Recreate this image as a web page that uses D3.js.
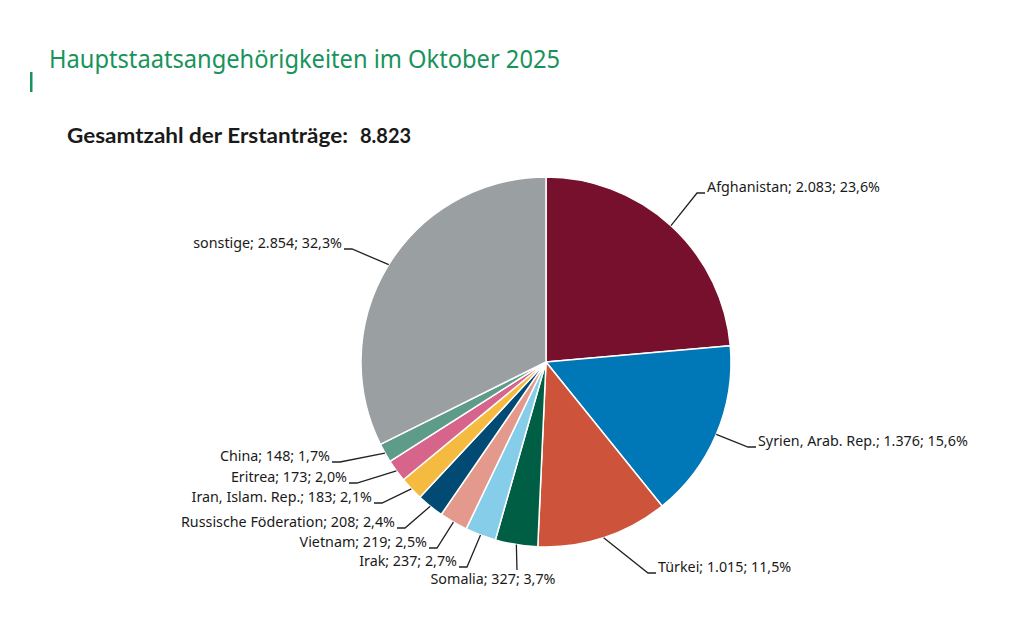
<!DOCTYPE html>
<html>
<head>
<meta charset="utf-8">
<script src="https://cdn.jsdelivr.net/npm/d3@7"></script>
<style>
  html, body { margin: 0; padding: 0; background: #fff; }
  svg { display: block; }
</style>
</head>
<body>
<div id="chart"></div>
<script>
// Erstanträge nach Hauptstaatsangehörigkeiten, Oktober 2025
const countries = ['Afghanistan', 'Syrien, Arab. Rep.', 'Türkei', 'Somalia', 'Irak', 'Vietnam',
  'Russische Föderation', 'Iran, Islam. Rep.', 'Eritrea', 'China', 'sonstige'];
const counts = [2083, 1376, 1015, 327, 237, 219, 208, 183, 173, 148, 2854];
const shares = ['23,6%', '15,6%', '11,5%', '3,7%', '2,7%', '2,5%', '2,4%', '2,1%', '2,0%', '1,7%', '32,3%'];
const countLabels = ['2.083', '1.376', '1.015', '327', '237', '219', '208', '183', '173', '148', '2.854'];
const total = '8.823';

const colors = ['#76102D', '#0077B6', '#CD533A', '#005E44', '#86CDEA', '#E3998B',
  '#004A74', '#F5BB40', '#D7648B', '#5E9B89', '#9A9FA2'];

// leader line elbows, relative to the pie centre (side: 1 = right, -1 = left, 0 = below)
const elbows = {
  'Afghanistan': [151, -169, 1],
  'Syrien, Arab. Rep.': [202, 85, 1],
  'Türkei': [102, 211, 1],
  'Somalia': [-29, 208, 0],
  'Irak': [-79, 205, -1],
  'Vietnam': [-109, 186, -1],
  'Russische Föderation': [-141, 166, -1],
  'Iran, Islam. Rep.': [-164, 141, -1],
  'Eritrea': [-189, 121, -1],
  'China': [-206, 100, -1],
  'sonstige': [-194, -113, -1]
};

const width = 1024, height = 630;
const cx = 546, cy = 362, radius = 185;
const green = '#18935B';
const font = '"Noto Sans", "Open Sans", sans-serif';

const svg = d3.select('#chart').append('svg')
  .attr('width', width)
  .attr('height', height);

// cut-off letter at the left margin
svg.append('rect')
  .attr('x', 30).attr('y', 72)
  .attr('width', 2.5).attr('height', 20)
  .attr('fill', green);

// title, fitted to the width seen in the original
svg.append('text')
  .attr('x', 49).attr('y', 68)
  .attr('font-family', font)
  .attr('font-size', 26)
  .attr('fill', green)
  .attr('textLength', 511).attr('lengthAdjust', 'spacingAndGlyphs')
  .text('Hauptstaatsangehörigkeiten im Oktober 2025');

svg.append('text')
  .attr('x', 67).attr('y', 143)
  .attr('font-family', 'Lato, "Noto Sans", sans-serif')
  .attr('font-size', 20)
  .attr('font-weight', 700)
  .attr('fill', '#1a1a1a')
  .attr('textLength', 281).attr('lengthAdjust', 'spacingAndGlyphs')
  .text('Gesamtzahl der Erstanträge:');

svg.append('text')
  .attr('x', 360).attr('y', 143)
  .attr('font-family', 'Lato, "Noto Sans", sans-serif')
  .attr('font-size', 20)
  .attr('font-weight', 700)
  .attr('fill', '#1a1a1a')
  .text(total);

// pie
const rows = countries.map((c, i) => ({ name: c, value: counts[i], count: countLabels[i], share: shares[i], color: colors[i] }));

const pie = d3.pie()
  .value(d => d.value)
  .sort(null);

const arc = d3.arc().innerRadius(0).outerRadius(radius);
const edge = d3.arc().innerRadius(radius).outerRadius(radius);

const g = svg.append('g').attr('transform', `translate(${cx},${cy})`);
const arcs = pie(rows);

g.selectAll('path.slice')
  .data(arcs)
  .enter()
  .append('path')
  .attr('class', 'slice')
  .attr('d', arc)
  .attr('fill', d => d.data.color)
  .attr('stroke', '#fff')
  .attr('stroke-width', 1.5)
  .attr('stroke-linejoin', 'round');

// leader lines and labels
arcs.forEach(d => {
  const [ex, ey, side] = elbows[d.data.name];
  const [sx, sy] = edge.centroid(d);
  const label = `${d.data.name}; ${d.data.count}; ${d.data.share}`;
  let pts, tx, ty, anchor;
  if (side === 0) {
    pts = [[sx, sy], [ex, ey]];
    tx = ex - 24; ty = ey + 14; anchor = 'middle';
  } else {
    const hx = ex + side * 8;
    pts = [[sx, sy], [ex, ey], [hx, ey]];
    tx = hx + side * 2; ty = ey - 1; anchor = side > 0 ? 'start' : 'end';
  }
  g.append('path')
    .attr('d', d3.line()(pts))
    .attr('fill', 'none')
    .attr('stroke', '#222')
    .attr('stroke-width', 1.3);
  g.append('text')
    .attr('x', tx).attr('y', ty)
    .attr('text-anchor', anchor)
    .attr('font-family', font)
    .attr('font-size', 14.3)
    .attr('fill', '#1a1a1a')
    .text(label);
});
</script>
</body>
</html>
